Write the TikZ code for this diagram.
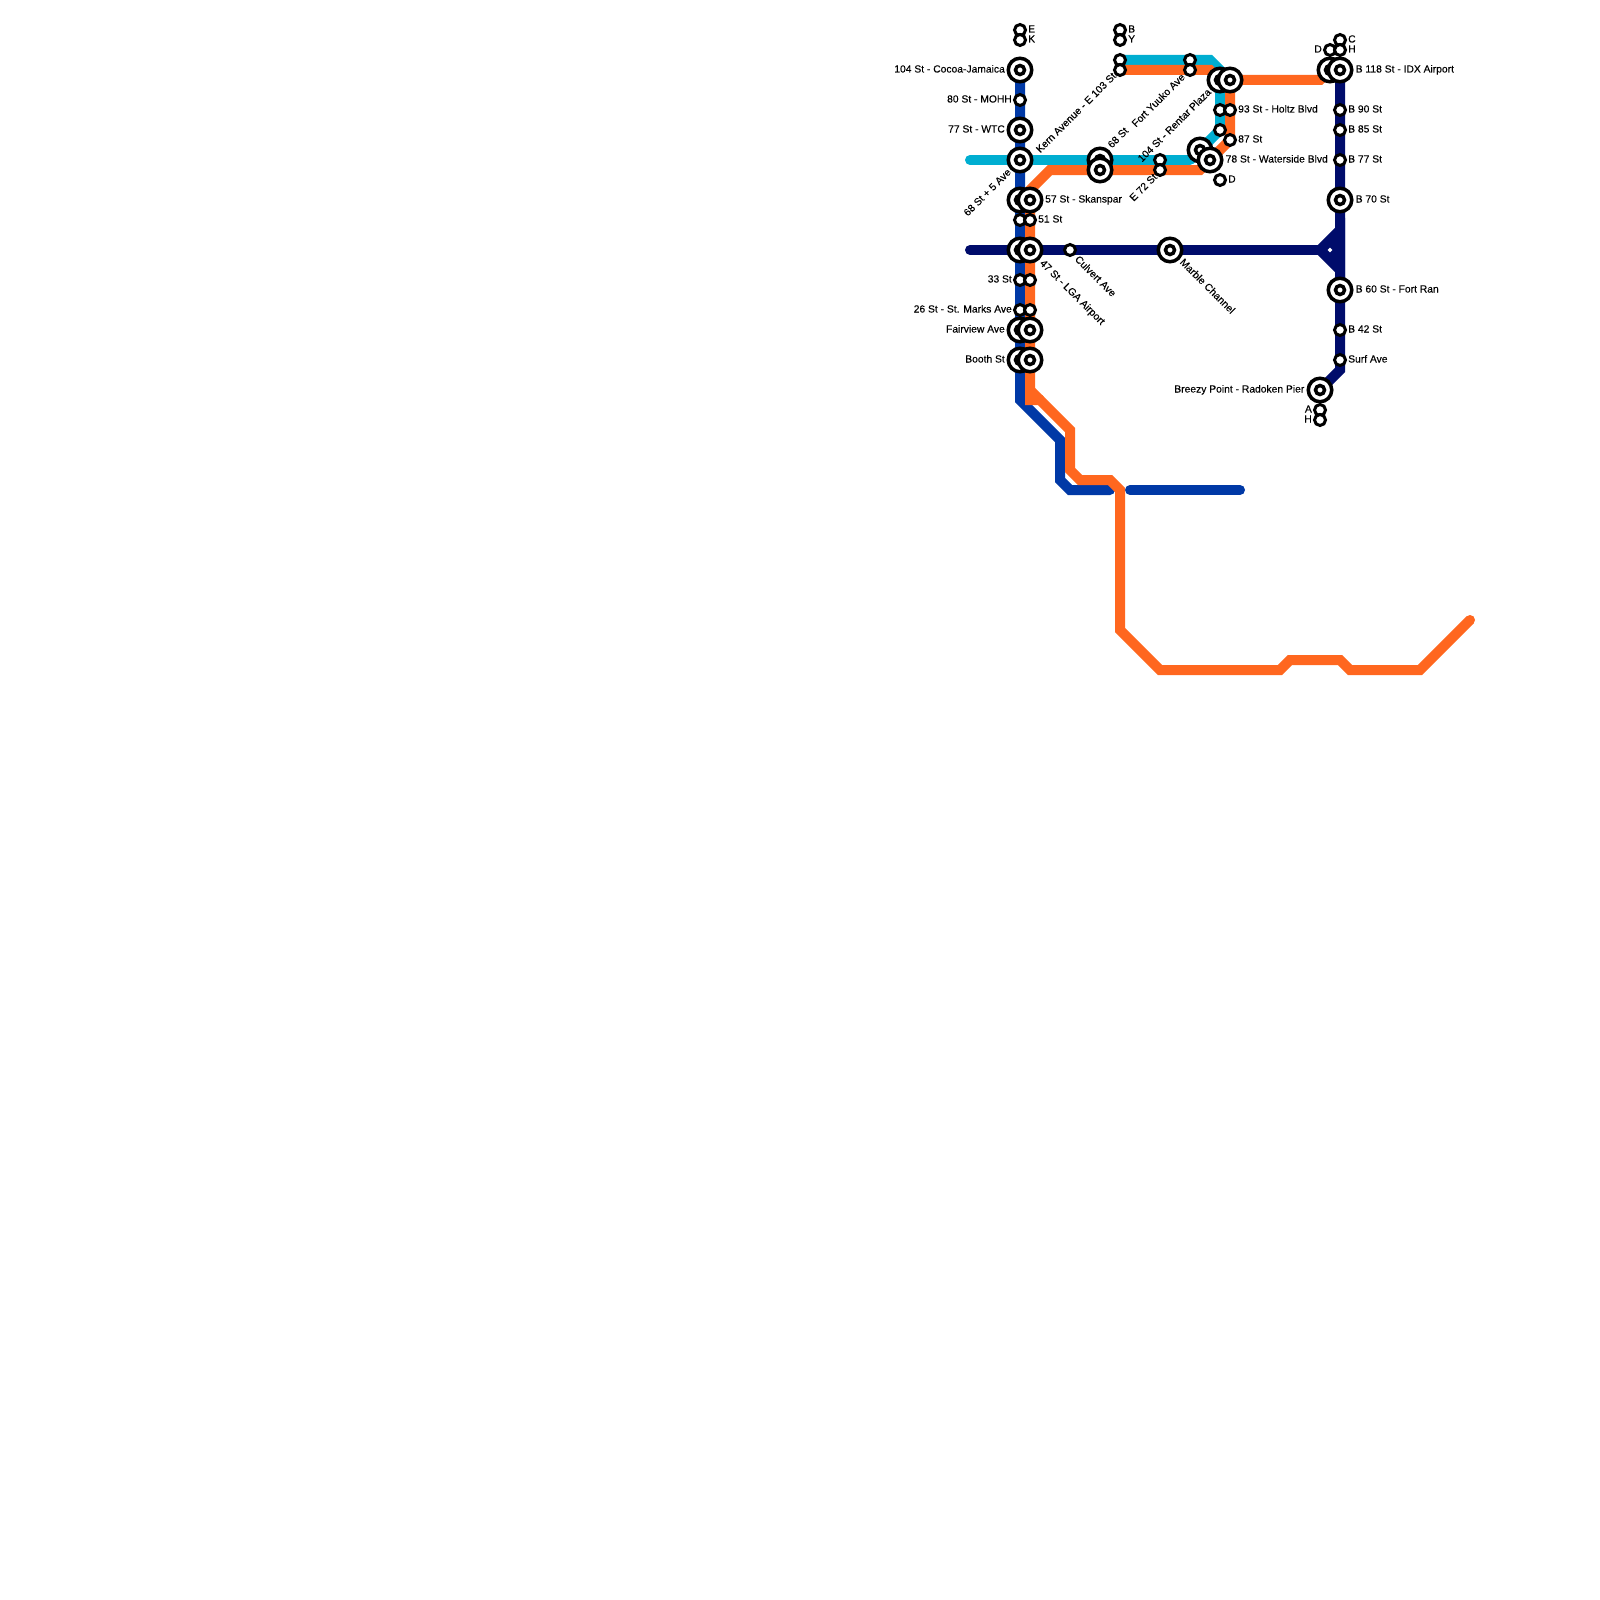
\documentclass[tikz,border=0pt]{standalone}
\usepackage{fontspec}
\setmainfont{Liberation Sans}
\newfontfamily\mapfont[FakeBold=0.2]{Liberation Sans}
\usetikzlibrary{positioning,shapes.geometric}
\definecolor{linecyan}{HTML}{00AED1}
\definecolor{lineorange}{HTML}{FF671F}
\definecolor{lineblue}{HTML}{0039A6}
\definecolor{linenavy}{HTML}{000C6B}

\begin{document}
\begin{tikzpicture}[
    x=1pt, y=-1pt,
    node distance=1pt and 1pt,
    route/.style={line width=10pt, miter limit=10},
    stopdot/.style={circle, draw, fill=white, line width=3pt, minimum size=11pt, inner sep=0pt},
    hubdot/.style={circle, draw, fill=white, line width=3.5pt, minimum size=23.5pt, inner sep=0pt,
      path picture={\draw[line width=3.5pt] (path picture bounding box.center) circle (4.5pt);}},
    txt/.style={font=\mapfont\fontsize{10.3}{12}\selectfont, inner sep=0pt, text height=7.5pt, text depth=2.5pt}
  ]
    \useasboundingbox (0,0) rectangle (1600,1600);
    % Routes
    \draw[route, lineblue] (1020,70) -- (1020,400) -- (1060,440) -- (1060,480) -- (1070,490) -- (1110,490);
    \fill[lineblue] (1110,490) circle (5pt);
    \draw[route, lineblue, line cap=round] (1130,490) -- (1240,490);
    \draw[route, linecyan, line cap=round] (970,160) -- (1190,160);
    \draw[route, linecyan] (1190,160) -- (1220,130) -- (1220,70) -- (1210,60) -- (1120,60);
    \draw[route, lineorange] (1120,70) -- (1210,70) -- (1220,80) -- (1320,80) -- (1330,70);
    \draw[route, lineorange] (1230,80) -- (1230,140) -- (1200,170) -- (1050,170) -- (1030,190) -- (1030,400) -- (1040,400) -- (1070,430) -- (1070,470) -- (1080,480) -- (1110,480) -- (1120,490) -- (1120,630) -- (1160,670) -- (1280,670) -- (1290,660) -- (1340,660) -- (1350,670) -- (1420,670) -- (1470,620);
    \draw[route, lineorange] (1030,390) -- (1040,400);
    \fill[lineorange] (1470,620) circle (5pt);
    \draw[route, linenavy, line cap=round] (970,250) -- (1320,250);
    \draw[route, linenavy, fill=linenavy] (1340,230) -- (1320,250) -- (1340,270) -- cycle;
    \draw[route, linenavy] (1340,70) -- (1340,370) -- (1320,390);
    \node[diamond, fill=white, inner sep=0pt, minimum size=5pt] (junction) at (1330,250) {};
    % Left column
    \node[stopdot] (e) at (1020,30) {};
    \node[stopdot] (k) at (1020,40) {};
    \node[hubdot] (cocoa) at (1020,70) {};
    \node[stopdot] (mohh) at (1020,100) {};
    \node[hubdot] (wtc) at (1020,130) {};
    \node[hubdot] (fifth) at (1020,160) {};
    \node[hubdot] (skanl) at (1020,200) {};
    \node[stopdot] (ftyl) at (1020,220) {};
    \node[hubdot] (lgal) at (1020,250) {};
    \node[stopdot] (thirtyl) at (1020,280) {};
    \node[stopdot] (marksl) at (1020,310) {};
    \node[hubdot] (fairl) at (1020,330) {};
    \node[hubdot] (boothl) at (1020,360) {};
    % Right of the left column
    \node[hubdot] (skanr) at (1030,200) {};
    \node[stopdot] (ftyr) at (1030,220) {};
    \node[hubdot] (lgar) at (1030,250) {};
    \node[stopdot] (thirtyr) at (1030,280) {};
    \node[stopdot] (marksr) at (1030,310) {};
    \node[hubdot] (fairr) at (1030,330) {};
    \node[hubdot] (boothr) at (1030,360) {};
    % Navy crossing
    \node[stopdot] (culvert) at (1070,250) {};
    \node[hubdot] (marble) at (1170,250) {};
    % Top row
    \node[stopdot] (b) at (1120,30) {};
    \node[stopdot] (y) at (1120,40) {};
    \node[stopdot] (kerncy) at (1120,60) {};
    \node[stopdot] (kern) at (1120,70) {};
    \node[stopdot] (yuukocy) at (1190,60) {};
    \node[stopdot] (yuuko) at (1190,70) {};
    \node[hubdot] (sixtycy) at (1100,160) {};
    \node[hubdot] (sixty) at (1100,170) {};
    \node[stopdot] (eastcy) at (1160,160) {};
    \node[stopdot] (east) at (1160,170) {};
    \node[hubdot] (rentar) at (1200,150) {};
    \node[hubdot] (water) at (1210,160) {};
    \node[hubdot] (toplcy) at (1220,80) {};
    \node[hubdot] (topl) at (1230,80) {};
    \node[stopdot] (holtzcy) at (1220,110) {};
    \node[stopdot] (holtz) at (1230,110) {};
    \node[stopdot] (eightycy) at (1220,130) {};
    \node[stopdot] (eighty) at (1230,140) {};
    \node[stopdot] (dlow) at (1220,180) {};
    % Navy column
    \node[stopdot] (c) at (1340,40) {};
    \node[stopdot] (d) at (1330,50) {};
    \node[stopdot] (h) at (1340,50) {};
    \node[hubdot] (idxl) at (1330,70) {};
    \node[hubdot] (idx) at (1340,70) {};
    \node[stopdot] (bninety) at (1340,110) {};
    \node[stopdot] (beightyfive) at (1340,130) {};
    \node[stopdot] (bseventyseven) at (1340,160) {};
    \node[hubdot] (bseventy) at (1340,200) {};
    \node[hubdot] (bsixty) at (1340,290) {};
    \node[stopdot] (bfortytwo) at (1340,330) {};
    \node[stopdot] (surf) at (1340,360) {};
    \node[hubdot] (breezy) at (1320,390) {};
    \node[stopdot] (a) at (1320,410) {};
    \node[stopdot] (hlow) at (1320,420) {};
    % Labels
    \node[txt, right=of e] (etxt) {E};
    \node[txt, right=of k] (ktxt) {K};
    \node[txt, right=of b] (btxt) {B};
    \node[txt, right=of y] (ytxt) {Y};
    \node[txt, left=1.5pt of cocoa] (cocoatxt) {104 St - Cocoa-Jamaica};
    \node[txt, left=of mohh] (mohhtxt) {80 St - MOHH};
    \node[txt, left=1.5pt of wtc] (wtctxt) {77 St - WTC};
    \node[txt, left=of thirtyl] (thirtytxt) {33 St};
    \node[txt, left=of marksl] (markstxt) {26 St - St. Marks Ave};
    \node[txt, left=1.5pt of fairl] (fairtxt) {Fairview Ave};
    \node[txt, left=1.5pt of boothl] (boothtxt) {Booth St};
    \node[txt, right=1.5pt of skanr] (skantxt) {57 St - Skanspar};
    \node[txt, right=of ftyr] (ftytxt) {51 St};
    \node[txt, right=of holtz] (holtztxt) {93 St - Holtz Blvd};
    \node[txt, right=of eighty] (eightytxt) {87 St};
    \node[txt, right=2pt of water] (watertxt) {78 St - Waterside Blvd};
    \node[txt, right=of dlow] (dlowtxt) {D};
    \node[txt, right=of c] (ctxt) {C};
    \node[txt, left=of d] (dtxt) {D};
    \node[txt, right=of h] (htxt) {H};
    \node[txt, right=2pt of idx] (idxtxt) {B 118 St - IDX Airport};
    \node[txt, right=of bninety] (bninetytxt) {B 90 St};
    \node[txt, right=of beightyfive] (beightyfivetxt) {B 85 St};
    \node[txt, right=of bseventyseven] (bseventyseventxt) {B 77 St};
    \node[txt, right=2pt of bseventy] (bseventytxt) {B 70 St};
    \node[txt, right=2pt of bsixty] (bsixtytxt) {B 60 St - Fort Ran};
    \node[txt, right=of bfortytwo] (bfortytwotxt) {B 42 St};
    \node[txt, right=of surf] (surftxt) {Surf Ave};
    \node[txt, left=2pt of breezy] (breezytxt) {Breezy Point - Radoken Pier};
    \node[txt, left=of a] (atxt) {A};
    \node[txt, left=of hlow] (hlowtxt) {H};
    % Slanted labels
    \node[txt, rotate=45, anchor=east] (fifthtxt) at (1010,171) {68 St + 5 Ave};
    \node[txt, rotate=45, anchor=east] (kerntxt) at (1115,75) {Kern Avenue - E 103 St};
    \node[txt, rotate=45, anchor=west] (sixtytxt) at (1110,147) {68 St};
    \node[txt, rotate=45, anchor=east] (yuukotxt) at (1184,76) {Fort Yuuko Ave};
    \node[txt, rotate=45, anchor=east] (rentartxt) at (1210,91) {104 St - Rentar Plaza};
    \node[txt, rotate=45, anchor=east] (easttxt) at (1156,176) {E 72 St};
    \node[txt, rotate=-45, anchor=west] (lgatxt) at (1041,262) {47 St - LGA Airport};
    \node[txt, rotate=-45, anchor=west] (culverttxt) at (1076,258) {Culvert Ave};
    \node[txt, rotate=-45, anchor=west] (marbletxt) at (1181,261) {Marble Channel};
\end{tikzpicture}
\end{document}
